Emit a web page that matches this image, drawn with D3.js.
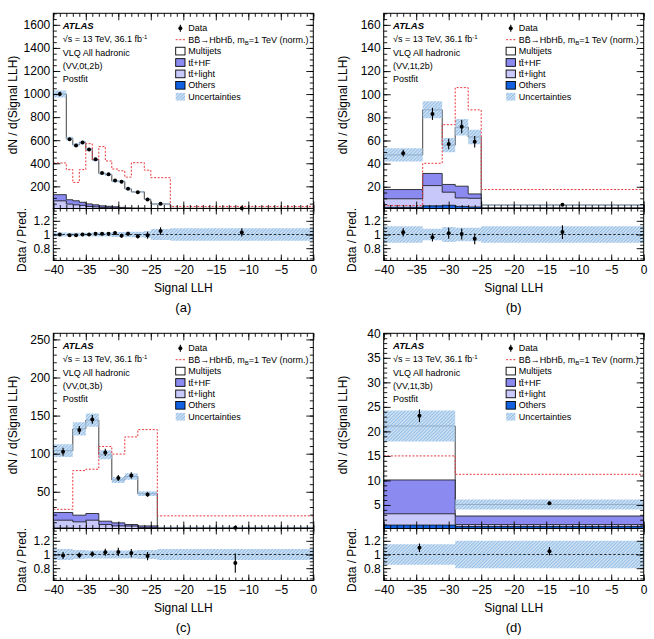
<!DOCTYPE html>
<html>
<head>
<meta charset="utf-8">
<script src="https://cdn.jsdelivr.net/npm/d3@7"></script>
<style>
  body { margin: 0; background: #fff; }
  text { font-family: "Liberation Sans", Arial, Helvetica, sans-serif; }
</style>
</head>
<body>
<div id="root"></div>
<script>
// ---- data ----
// (a) VV,0t,2b
const edgesA = [-40, -38, -37, -36, -35, -34, -33, -32, -31, -30, -29, -28, -26, -25, -22, 0];
const dataA = [1000, 609, 554, 580, 520, 434, 315, 305, 250, 239, 180, 148, 87, 49.4, 10.3];
const errA = [20, 12, 11, 12, 11, 10, 8, 8, 7, 7, 5, 5, 4.5, 2.5, 0.6];
const othersA = [8, 6, 5, 5, 4, 4, 3, 3, 3, 2, 2, 2, 1.5, 1, 0.5];
const ttLightA = [66, 40, 35, 30, 22, 18, 14, 12, 10, 8, 6, 5, 4, 3, 1];
const ttHFA = [54, 38, 35, 27, 22, 18, 14, 12, 10, 8, 6, 5, 4, 3, 1];
const multijetA = [872, 531, 485, 518, 472, 390, 281, 275, 222, 225, 164, 140, 78.5, 40, 7.5];
const signalA = [403, 345, 234, 345, 570, 430, 545, 420, 350, 335, 280, 405, 340, 275, 26];
const uncA = [0.03, 0.025, 0.025, 0.025, 0.025, 0.03, 0.03, 0.03, 0.035, 0.035, 0.04, 0.04, 0.05, 0.08, 0.09];

// (b) VV,1t,2b
const edgesB = [-40, -34, -31, -29, -27, -25, 0];
const dataB = [49, 83, 57, 72, 59, 4.35];
const errB = [2.9, 5.2, 4.5, 5.7, 5, 0.42];
const othersB = [2.2, 3.5, 4, 3, 2.5, 0.5];
const ttLightB = [7.4, 17.5, 11.3, 7.3, 7.5, 0.5];
const ttHFB = [8, 10.5, 6.7, 10.2, 3.8, 0.8];
const multijetB = [29.9, 55, 34, 51, 49.2, 2.4];
const signalB = [3.8, 40.3, 73.7, 105.7, 86.5, 17.6];
const uncB = [0.12, 0.085, 0.11, 0.1, 0.1, 0.12];

// (c) VV,0t,3b
const edgesC = [-40, -37, -35, -33, -31, -29, -27, -24, 0];
const dataC = [102.5, 131, 145, 101.7, 68, 71.5, 46.4, 2.8];
const errC = [5.2, 5.3, 5.8, 4.9, 3.9, 4.2, 2.9, 0.45];
const othersC = [2.5, 2, 2, 1.5, 1.2, 1, 0.8, 0.3];
const ttLightC = [10.2, 8.5, 10.7, 5.5, 4, 4, 2.2, 0.4];
const ttHFC = [10.1, 8.8, 8.8, 4.4, 4, 2, 2.2, 0.6];
const multijetC = [81.2, 113.2, 122.5, 87.1, 56.3, 63, 42.3, 1.9];
const signalC = [27, 77.8, 79.6, 109.5, 99.5, 122, 131.6, 18.4];
const uncC = [0.08, 0.065, 0.06, 0.06, 0.06, 0.06, 0.065, 0.08];

// (d) VV,1t,3b
const edgesD = [-40, -29, 0];
const dataD = [23.2, 5.35];
const errD = [1.3, 0.3];
const othersD = [0.9, 0.6];
const ttLightD = [2.3, 0.4];
const ttHFD = [6.9, 1.75];
const multijetD = [11, 2.35];
const signalD = [15, 11.25];
const uncD = [0.15, 0.2];

const xTicks = [-40, -35, -30, -25, -20, -15, -10, -5, 0];
const ratioTicks = [0.8, 1, 1.2];

const panels = [
  { tag: "(a)", region: "(VV,0t,2b)", edges: edgesA, data: dataA, err: errA, others: othersA, ttLight: ttLightA, ttHF: ttHFA, multijet: multijetA, signal: signalA, unc: uncA, yMin: 8, yMax: 1700, yStep: 200, yMinor: 50, ox: 0, oy: 0 },
  { tag: "(b)", region: "(VV,1t,2b)", edges: edgesB, data: dataB, err: errB, others: othersB, ttLight: ttLightB, ttHF: ttHFB, multijet: multijetB, signal: signalB, unc: uncB, yMin: 1.2, yMax: 170, yStep: 20, yMinor: 5, ox: 330.4, oy: 0 },
  { tag: "(c)", region: "(VV,0t,3b)", edges: edgesC, data: dataC, err: errC, others: othersC, ttLight: ttLightC, ttHF: ttHFC, multijet: multijetC, signal: signalC, unc: uncC, yMin: 1.8, yMax: 258, yStep: 50, yMinor: 10, ox: 0, oy: 320 },
  { tag: "(d)", region: "(VV,1t,3b)", edges: edgesD, data: dataD, err: errD, others: othersD, ttLight: ttLightD, ttHF: ttHFD, multijet: multijetD, signal: signalD, unc: uncD, yMin: 0.2, yMax: 40, yStep: 5, yMinor: 1, ox: 330.4, oy: 320 }
];

// colours
const colOthers = "#1060e0", colLight = "#c8c8fa", colHF = "#8a8af0", colSignal = "#e8383d";

// layout of one panel
const margin = { left: 53.3, top: 13.3 };
const fw = 260, mainH = 195.2, ratioH = 52;

const svg = d3.select("#root").append("svg").attr("width", 654).attr("height", 639);
const defs = svg.append("defs");

// hatch for uncertainties
const hatch = defs.append("pattern")
  .attr("id", "hatch")
  .attr("patternUnits", "userSpaceOnUse")
  .attr("width", 2.4).attr("height", 2.4)
  .attr("patternTransform", "rotate(45)");
hatch.append("rect").attr("width", 2.4).attr("height", 2.4).attr("fill", "#c4dbf1").attr("opacity", 0.7);
hatch.append("line").attr("x1", 0.6).attr("y1", 0).attr("x2", 0.6).attr("y2", 2.4)
  .attr("stroke", "#7aaee0").attr("stroke-width", 0.8);

const fmtInt = d3.format("d");

function styleAxis(sel, withText) {
  sel.select(".domain").remove();
  sel.selectAll(".tick line").attr("stroke", "#000").attr("stroke-width", 0.9);
  sel.selectAll("text").attr("font-family", "Liberation Sans, Arial, sans-serif").attr("font-size", 12).attr("fill", "#000");
  if (!withText) sel.selectAll("text").remove();
}

function drawPanel(p, k) {
  const g = svg.append("g").attr("transform", `translate(${p.ox + margin.left},${p.oy + margin.top})`);
  const n = p.data.length;

  const x = d3.scaleLinear().domain([-40, 0]).range([0, fw]);
  const y = d3.scaleLinear().domain([p.yMin, p.yMax]).range([mainH, 0]);
  const yr = d3.scaleLinear().domain([0.62, 1.38]).range([mainH + ratioH, mainH]);

  // cumulative stack: others, tt+light, tt+HF, multijets
  const comps = [p.others, p.ttLight, p.ttHF, p.multijet];
  const fills = [colOthers, colLight, colHF, "#fff"];
  const cum = [];
  let acc = new Array(n).fill(0);
  comps.forEach((c) => {
    acc = acc.map((a, i) => a + c[i]);
    cum.push(acc);
  });
  const total = cum[3];

  const pts = d3.range(n + 1).map((i) => ({ x: p.edges[i], i: Math.min(i, n - 1) }));

  const clipMain = "clipMain" + k, clipRatio = "clipRatio" + k;
  defs.append("clipPath").attr("id", clipMain).append("rect").attr("width", fw).attr("height", mainH);
  defs.append("clipPath").attr("id", clipRatio).append("rect").attr("y", mainH).attr("width", fw).attr("height", ratioH);

  const main = g.append("g").attr("clip-path", `url(#${clipMain})`);

  // stack, drawn from the top histogram down
  for (let s = 3; s >= 0; s--) {
    const vals = cum[s];
    const area = d3.area()
      .curve(d3.curveStepAfter)
      .x((d) => x(d.x))
      .y0(mainH + 2)
      .y1((d) => y(vals[d.i]));
    main.append("path")
      .attr("d", area(pts))
      .attr("fill", fills[s])
      .attr("stroke", "#111")
      .attr("stroke-width", 0.8);
  }

  // uncertainty band
  const band = d3.area()
    .curve(d3.curveStepAfter)
    .x((d) => x(d.x))
    .y0((d) => y(total[d.i] * (1 - p.unc[d.i])))
    .y1((d) => y(total[d.i] * (1 + p.unc[d.i])));
  main.append("path").attr("d", band(pts)).attr("fill", "url(#hatch)");

  // signal (dashed red)
  const sigLine = d3.line()
    .curve(d3.curveStepAfter)
    .x((d) => x(d.x))
    .y((d) => y(p.signal[d.i]));
  main.append("path")
    .attr("d", sigLine(pts))
    .attr("fill", "none")
    .attr("stroke", colSignal)
    .attr("stroke-width", 1)
    .attr("stroke-dasharray", "2,1.6");

  // data points
  const centers = p.data.map((d, i) => (p.edges[i] + p.edges[i + 1]) / 2);
  const dataG = g.append("g");
  p.data.forEach((d, i) => {
    dataG.append("line")
      .attr("x1", x(centers[i])).attr("x2", x(centers[i]))
      .attr("y1", y(d - p.err[i])).attr("y2", y(d + p.err[i]))
      .attr("stroke", "#000").attr("stroke-width", 1.1);
    dataG.append("circle")
      .attr("cx", x(centers[i])).attr("cy", Math.min(y(d), mainH))
      .attr("r", 2).attr("fill", "#000");
  });

  // ratio pad
  const ratio = g.append("g").attr("clip-path", `url(#${clipRatio})`);
  const rBand = d3.area()
    .curve(d3.curveStepAfter)
    .x((d) => x(d.x))
    .y0((d) => yr(1 - p.unc[d.i]))
    .y1((d) => yr(1 + p.unc[d.i]));
  ratio.append("path").attr("d", rBand(pts)).attr("fill", "url(#hatch)");
  ratio.append("line")
    .attr("x1", 0).attr("x2", fw)
    .attr("y1", yr(1)).attr("y2", yr(1))
    .attr("stroke", "#000").attr("stroke-width", 0.8).attr("stroke-dasharray", "2.5,2");
  p.data.forEach((d, i) => {
    const r = d / total[i], re = p.err[i] / total[i];
    ratio.append("line")
      .attr("x1", x(centers[i])).attr("x2", x(centers[i]))
      .attr("y1", yr(r - re)).attr("y2", yr(r + re))
      .attr("stroke", "#000").attr("stroke-width", 1.1);
    ratio.append("circle")
      .attr("cx", x(centers[i])).attr("cy", yr(r))
      .attr("r", 2).attr("fill", "#000");
  });

  // axes: main pad
  const yMajor = d3.range(p.yStep, p.yMax + 1e-9, p.yStep);
  const yMinorT = d3.range(p.yMinor, p.yMax + 1e-9, p.yMinor);
  const xMinor = d3.range(-40, 0.01, 1);

  g.append("g").call(d3.axisLeft(y).tickValues(yMinorT).tickSize(-3.5)).call(styleAxis, false);
  g.append("g").call(d3.axisLeft(y).tickValues(yMajor).tickSize(-7).tickPadding(3).tickFormat(fmtInt)).call(styleAxis, true);
  g.append("g").attr("transform", `translate(${fw},0)`).call(d3.axisRight(y).tickValues(yMinorT).tickSize(-3.5)).call(styleAxis, false);
  g.append("g").attr("transform", `translate(${fw},0)`).call(d3.axisRight(y).tickValues(yMajor).tickSize(-7)).call(styleAxis, false);

  [0, mainH].forEach((yy, j) => {
    const mk = j === 0 ? d3.axisTop : d3.axisBottom;
    g.append("g").attr("transform", `translate(0,${yy})`).call(mk(x).tickValues(xMinor).tickSize(-3.5)).call(styleAxis, false);
    g.append("g").attr("transform", `translate(0,${yy})`).call(mk(x).tickValues(xTicks).tickSize(-7)).call(styleAxis, false);
  });

  // axes: ratio pad
  const rMinor = d3.range(0.65, 1.36, 0.05);
  g.append("g").call(d3.axisLeft(yr).tickValues(rMinor).tickSize(-3.5)).call(styleAxis, false);
  g.append("g").call(d3.axisLeft(yr).tickValues(ratioTicks).tickSize(-7).tickPadding(3)
    .tickFormat((d) => (d === 1 ? "1" : d3.format(".1f")(d)))).call(styleAxis, true);
  g.append("g").attr("transform", `translate(${fw},0)`).call(d3.axisRight(yr).tickValues(rMinor).tickSize(-3.5)).call(styleAxis, false);
  g.append("g").attr("transform", `translate(${fw},0)`).call(d3.axisRight(yr).tickValues(ratioTicks).tickSize(-7)).call(styleAxis, false);
  g.append("g").attr("transform", `translate(0,${mainH + ratioH})`).call(d3.axisBottom(x).tickValues(xMinor).tickSize(-3)).call(styleAxis, false);
  g.append("g").attr("transform", `translate(0,${mainH + ratioH})`).call(d3.axisBottom(x).tickValues(xTicks).tickSize(-6).tickPadding(5)).call(styleAxis, true);
  g.append("g").attr("transform", `translate(0,${mainH})`).call(d3.axisBottom(x).tickValues(xMinor).tickSize(3)).call(styleAxis, false);
  g.append("g").attr("transform", `translate(0,${mainH})`).call(d3.axisBottom(x).tickValues(xTicks).tickSize(6)).call(styleAxis, false);

  // frames
  g.append("rect").attr("width", fw).attr("height", mainH).attr("fill", "none").attr("stroke", "#000").attr("stroke-width", 1);
  g.append("rect").attr("y", mainH).attr("width", fw).attr("height", ratioH).attr("fill", "none").attr("stroke", "#000").attr("stroke-width", 1);

  // axis titles
  g.append("text")
    .attr("transform", `translate(-36.3,${91.7}) rotate(-90)`)
    .attr("text-anchor", "middle").attr("font-size", 12)
    .text("dN / d(Signal LLH)");
  g.append("text")
    .attr("transform", `translate(-27.8,${226.7}) rotate(-90)`)
    .attr("text-anchor", "middle").attr("font-size", 12)
    .text("Data / Pred.");
  g.append("text")
    .attr("x", fw / 2).attr("y", 278.7)
    .attr("text-anchor", "middle").attr("font-size", 12)
    .text("Signal LLH");
  g.append("text")
    .attr("x", fw / 2).attr("y", 298.5)
    .attr("text-anchor", "middle").attr("font-size", 13)
    .text(p.tag);

  // ATLAS label block
  const lab = g.append("g").attr("font-size", 9);
  lab.append("text").attr("x", 9.4).attr("y", 16).attr("font-weight", "bold").attr("font-style", "italic")
    .attr("font-size", 9.5).text("ATLAS");
  const lum = lab.append("text").attr("x", 9.4).attr("y", 29.2);
  lum.append("tspan").text("\u221As = 13 TeV, 36.1 fb");
  lum.append("tspan").attr("font-size", 6).attr("dy", -3.5).text("-1");
  lab.append("text").attr("x", 9.4).attr("y", 42.4).text("VLQ All hadronic");
  lab.append("text").attr("x", 9.4).attr("y", 55.6).text(p.region);
  lab.append("text").attr("x", 9.4).attr("y", 68.8).text("Postfit");

  // legend
  const leg = g.append("g").attr("font-size", 9);
  const rows = [15, 26.4, 37.8, 49.2, 60.6, 72, 83.4];
  const bx = 122.4, bw = 9.3, bh = 7.7, tx = 135;
  // Data
  leg.append("line").attr("x1", bx + bw / 2).attr("x2", bx + bw / 2).attr("y1", rows[0] - 3.5).attr("y2", rows[0] + 3.5)
    .attr("stroke", "#000").attr("stroke-width", 1.1);
  leg.append("circle").attr("cx", bx + bw / 2).attr("cy", rows[0]).attr("r", 2).attr("fill", "#000");
  leg.append("text").attr("x", tx).attr("y", rows[0] + 3.2).text("Data");
  // Signal
  leg.append("line").attr("x1", bx).attr("x2", bx + bw).attr("y1", rows[1]).attr("y2", rows[1])
    .attr("stroke", colSignal).attr("stroke-width", 1).attr("stroke-dasharray", "2,1.6");
  const st = leg.append("text").attr("x", tx).attr("y", rows[1] + 3.2);
  st.append("tspan").text("BB\u0304\u2192HbHb\u0304, m");
  st.append("tspan").attr("font-size", 6).attr("dy", 2).text("B");
  st.append("tspan").attr("dy", -2).text("=1 TeV (norm.)");
  // stack entries
  const boxes = [
    { fill: "#fff", label: "Multijets" },
    { fill: colHF, label: "tt\u0304+HF" },
    { fill: colLight, label: "tt\u0304+light" },
    { fill: colOthers, label: "Others" }
  ];
  boxes.forEach((b, j) => {
    leg.append("rect").attr("x", bx).attr("y", rows[j + 2] - bh / 2).attr("width", bw).attr("height", bh)
      .attr("fill", b.fill).attr("stroke", "#000").attr("stroke-width", 0.9);
    leg.append("text").attr("x", tx).attr("y", rows[j + 2] + 3.2).text(b.label);
  });
  leg.append("rect").attr("x", bx).attr("y", rows[6] - bh / 2).attr("width", bw).attr("height", bh)
    .attr("fill", "url(#hatch)");
  leg.append("text").attr("x", tx).attr("y", rows[6] + 3.2).text("Uncertainties");
}

panels.forEach(drawPanel);
</script>
</body>
</html>
